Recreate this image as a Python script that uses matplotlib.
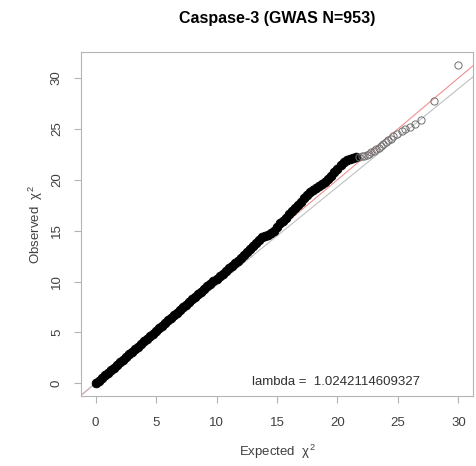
import matplotlib
matplotlib.use("Agg")
import matplotlib.pyplot as plt

plt.rcParams['font.family'] = ['Liberation Sans', 'DejaVu Sans']
plt.rcParams['mathtext.fontset'] = 'custom'
plt.rcParams['mathtext.rm'] = 'Liberation Sans'
plt.rcParams['mathtext.it'] = 'Liberation Sans'

TITLE = "Caspase-3 (GWAS N=953)"
LAMBDA = "1.0242114609327"

# expected vs observed chi-square quantiles
expected = [
    0.00, 0.25, 0.50, 0.75, 1.00, 1.25, 1.50, 1.75, 2.00, 2.25,
    2.50, 2.75, 3.00, 3.25, 3.50, 3.75, 4.00, 4.25, 4.50, 4.75,
    5.00, 5.25, 5.50, 5.75, 6.00, 6.25, 6.50, 6.75, 7.00, 7.25,
    7.50, 7.75, 8.00, 8.25, 8.50, 8.75, 9.00, 9.25, 9.50, 9.75,
    10.00, 10.25, 10.50, 10.75, 11.00, 11.25, 11.50, 11.75, 12.00, 12.25,
    12.50, 12.75, 13.00, 13.25, 13.50, 13.75, 14.00, 14.25, 14.50, 14.75,
    15.00, 15.25, 15.50, 15.75, 16.00, 16.25, 16.50, 16.75, 17.00, 17.25,
    17.50, 17.75, 18.00, 18.25, 18.50, 18.75, 19.00, 19.25, 19.50, 19.75,
    20.00, 20.25, 20.50, 20.75, 21.00, 21.25, 21.50,
    21.75, 22.00, 22.20, 22.40, 22.60, 22.80, 23.00, 23.20, 23.40, 23.60,
    23.80, 24.00, 24.20, 24.40, 24.60, 24.90, 25.30, 25.60, 26.00, 26.40,
    26.90, 27.96, 30.00,
]
observed = [
    0.00, 0.26, 0.51, 0.77, 1.03, 1.29, 1.54, 1.80, 2.06, 2.32,
    2.57, 2.83, 3.09, 3.35, 3.61, 3.86, 4.12, 4.38, 4.63, 4.89,
    5.15, 5.41, 5.66, 5.92, 6.18, 6.44, 6.69, 6.95, 7.21, 7.47,
    7.72, 7.98, 8.24, 8.50, 8.76, 9.01, 9.27, 9.53, 9.79, 10.05,
    10.28, 10.52, 10.76, 11.02, 11.28, 11.54, 11.80, 12.05, 12.30, 12.57,
    12.85, 13.15, 13.45, 13.80, 14.10, 14.35, 14.50, 14.60, 14.75, 15.00,
    15.40, 15.70, 15.95, 16.25, 16.60, 16.90, 17.20, 17.50, 17.85, 18.20,
    18.50, 18.75, 19.00, 19.20, 19.40, 19.60, 19.80, 20.10, 20.40, 20.75,
    21.10, 21.45, 21.70, 21.90, 22.05, 22.15, 22.20,
    22.25, 22.30, 22.35, 22.45, 22.55, 22.70, 22.85, 23.00, 23.15, 23.35,
    23.55, 23.75, 23.90, 24.05, 24.25, 24.50, 24.80, 25.00, 25.20, 25.50,
    25.90, 27.70, 31.30,
]

# reference lines: y = x (red) and a shallower grey line
red_line = (0.0, 1.0)
grey_line = (0.0, 0.965)

DENSE_UNTIL = 21.5  # beyond this the points are drawn as sparse open circles

fig = plt.figure(figsize=(4.76, 4.66), dpi=100)
ax = fig.add_axes([81 / 476, 1 - 396 / 466, 392 / 476, 344 / 466])

ax.axline((0, red_line[0]), slope=red_line[1], color='#f09090', lw=0.8, zorder=1)
ax.axline((0, grey_line[0]), slope=grey_line[1], color='#c0c0c0', lw=0.8, zorder=1)

dense_x = [e for e in expected if e <= DENSE_UNTIL]
dense_y = observed[:len(dense_x)]
tail_x = expected[len(dense_x):]
tail_y = observed[len(dense_x):]

ax.plot(dense_x, dense_y, 'o', ms=6.3, mfc='black', mec='black', mew=0.6, zorder=2)
ax.plot(tail_x, tail_y, 'o', ms=5.2, mfc='none', mec='#707070', mew=0.7, zorder=2)

ax.set_xlim(-1.2, 31.2)
ax.set_ylim(-1.25, 32.55)
ax.set_xticks(range(0, 31, 5))
ax.set_yticks(range(0, 31, 5))
for side in ax.spines.values():
    side.set_color('#b4b4b4')
    side.set_linewidth(0.8)
ax.tick_params(length=5, width=0.8, color='#b4b4b4', labelsize=9.5,
               labelcolor='#404040')
ax.tick_params(axis='x', pad=10)
ax.tick_params(axis='y', pad=8)
for lab in ax.get_yticklabels():
    lab.set_rotation(90)
    lab.set_va('center')

ax.set_xlabel(r'Expected  $\chi^2$', fontsize=9.5, color='#404040', labelpad=10)
ax.set_ylabel(r'Observed  $\chi^2$', fontsize=9.5, color='#404040', labelpad=4)
fig.text(277 / 476, 1 - 19 / 466, TITLE, ha='center', va='center',
         fontsize=11.5, fontweight='bold')
ax.text(19.9, 0.1, 'lambda =  ' + LAMBDA, ha='center', va='center',
        fontsize=9.5, color='#303030')

fig.savefig('out.png', dpi=100)
